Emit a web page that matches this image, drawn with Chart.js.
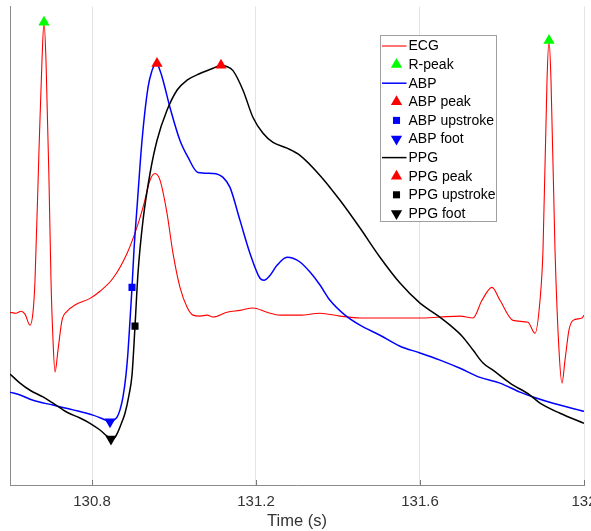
<!DOCTYPE html>
<html><head><meta charset="utf-8">
<script src="https://cdn.jsdelivr.net/npm/chart.js@4.4.1/dist/chart.umd.min.js"></script>
<style>html,body{margin:0;padding:0;background:#fff;overflow:hidden}</style>
</head><body>
<canvas id="c" width="591" height="531"></canvas>
<script>
// ---- data (time in s, amplitude normalised 0..1) ----
const xTicks = [130.8, 131.2, 131.6, 132];

const ecgT = [130.6000,130.6146,130.6268,130.6366,130.6488,130.6561,130.6610,130.6707,130.6780,130.6829,130.6878,130.6951,130.7000,130.7049,130.7098,130.7171,130.7268,130.7390,130.7585,130.7951,130.8195,130.8512,130.8854,130.9098,130.9244,130.9415,130.9537,130.9659,130.9829,130.9976,131.0146,131.0317,131.0463,131.0634,131.0805,131.0951,131.1293,131.1610,131.1927,131.2268,131.2585,131.3073,131.3561,131.4049,131.4537,131.5024,131.5512,131.6000,131.6488,131.6976,131.7293,131.7512,131.7756,131.7951,131.8268,131.8634,131.8805,131.8927,131.9000,131.9098,131.9146,131.9195,131.9293,131.9390,131.9463,131.9537,131.9634,131.9732,131.9951,132.0000];
const ecgV = [0.361,0.359,0.363,0.357,0.334,0.361,0.428,0.699,0.887,0.967,0.887,0.637,0.428,0.303,0.236,0.282,0.344,0.363,0.376,0.390,0.405,0.432,0.484,0.539,0.580,0.637,0.651,0.637,0.568,0.484,0.413,0.372,0.355,0.353,0.355,0.351,0.361,0.365,0.370,0.361,0.355,0.355,0.359,0.353,0.349,0.349,0.349,0.349,0.351,0.353,0.349,0.386,0.413,0.386,0.344,0.340,0.317,0.386,0.491,0.846,0.929,0.846,0.491,0.282,0.213,0.261,0.324,0.344,0.349,0.355];

const abpT = [130.6000,130.6244,130.6561,130.7049,130.7537,130.8024,130.8268,130.8439,130.8537,130.8610,130.8683,130.8756,130.8829,130.8878,130.8927,130.8976,130.9024,130.9098,130.9220,130.9366,130.9463,130.9537,130.9585,130.9659,130.9732,130.9902,131.0146,131.0341,131.0585,131.0951,131.1195,131.1366,131.1610,131.1854,131.2098,131.2195,131.2341,131.2512,131.2756,131.2902,131.3073,131.3317,131.3561,131.3805,131.4171,131.4537,131.5024,131.5512,131.6000,131.6488,131.6976,131.7463,131.7951,131.8439,131.8756,131.9244,132.0000];
const abpV = [0.194,0.188,0.177,0.167,0.157,0.146,0.138,0.132,0.136,0.142,0.157,0.184,0.230,0.278,0.344,0.413,0.491,0.580,0.720,0.831,0.866,0.879,0.881,0.866,0.846,0.789,0.720,0.685,0.653,0.651,0.643,0.622,0.553,0.484,0.432,0.428,0.438,0.459,0.476,0.474,0.466,0.445,0.418,0.386,0.355,0.334,0.313,0.290,0.276,0.261,0.244,0.225,0.213,0.194,0.184,0.171,0.154];

const ppgT = [130.6000,130.6244,130.6488,130.6805,130.7049,130.7390,130.7707,130.7951,130.8195,130.8366,130.8463,130.8561,130.8634,130.8732,130.8805,130.8902,130.8976,130.9049,130.9122,130.9244,130.9415,130.9585,130.9829,131.0073,131.0317,131.0634,131.0951,131.1146,131.1268,131.1439,131.1683,131.1927,131.2171,131.2415,131.2756,131.3073,131.3561,131.4049,131.4537,131.5024,131.5512,131.6000,131.6415,131.6732,131.7049,131.7293,131.7537,131.7780,131.8195,131.8683,131.8927,131.9415,132.0000];
const ppgV = [0.232,0.213,0.198,0.184,0.171,0.152,0.140,0.129,0.115,0.102,0.096,0.100,0.111,0.132,0.150,0.188,0.230,0.332,0.443,0.553,0.651,0.720,0.783,0.825,0.846,0.860,0.871,0.877,0.875,0.866,0.825,0.768,0.735,0.716,0.704,0.689,0.647,0.595,0.537,0.476,0.422,0.380,0.355,0.334,0.309,0.282,0.255,0.240,0.213,0.188,0.171,0.150,0.129];

const rPeakT = [130.6829, 131.9146];
const rPeakV = [0.967, 0.929];
const abpPeakT = [130.9585];
const abpPeakV = [0.881];
const abpUpT = [130.8976];
const abpUpV = [0.413];
const abpFootT = [130.8439];
const abpFootV = [0.132];
const ppgPeakT = [131.1146];
const ppgPeakV = [0.877];
const ppgUpT = [130.9049];
const ppgUpV = [0.332];
const ppgFootT = [130.8463];
const ppgFootV = [0.096];

const legendLabels = ['ECG','R-peak','ABP','ABP peak','ABP upstroke','ABP foot','PPG','PPG peak','PPG upstroke','PPG foot'];

// ---- build ----
const FONT = '"Liberation Sans", Arial, Helvetica, sans-serif';
const pts = (t, v) => t.map((x, i) => ({x, y: v[i]}));
const lineDS = (label, t, v, color, width, order) => ({
  label, data: pts(t, v), showLine: true, borderColor: color, backgroundColor: color,
  borderWidth: width, pointRadius: 0, pointHoverRadius: 0, cubicInterpolationMode: 'monotone',
  fill: false, order
});
const markDS = (label, t, v, color, style, radius, rotation) => ({
  label, data: pts(t, v), showLine: false, pointStyle: style, pointRadius: radius,
  pointHoverRadius: radius, pointRotation: rotation, backgroundColor: color, borderColor: color,
  borderWidth: 0, order: 0
});

const datasets = [
  lineDS('ECG', ecgT, ecgV, '#ff0000', 1.1, 3),
  markDS('R-peak', rPeakT, rPeakV, '#00ff00', 'triangle', 6.5, 0),
  lineDS('ABP', abpT, abpV, '#0000ff', 1.5, 2),
  markDS('ABP peak', abpPeakT, abpPeakV, '#ff0000', 'triangle', 6.5, 0),
  markDS('ABP upstroke', abpUpT, abpUpV, '#0000ff', 'rect', 5, 0),
  markDS('ABP foot', abpFootT, abpFootV, '#0000ff', 'triangle', 6.5, 180),
  lineDS('PPG', ppgT, ppgV, '#000000', 1.5, 1),
  markDS('PPG peak', ppgPeakT, ppgPeakV, '#ff0000', 'triangle', 6.5, 0),
  markDS('PPG upstroke', ppgUpT, ppgUpV, '#000000', 'rect', 5, 0),
  markDS('PPG foot', ppgFootT, ppgFootV, '#000000', 'triangle', 6.5, 180)
];

function drawMarker(ctx, style, r, rot, x, y) {
  if (window.Chart && Chart.helpers && Chart.helpers.drawPoint) {
    Chart.helpers.drawPoint(ctx, {pointStyle: style, radius: r, rotation: rot, borderWidth: 0}, x, y);
    return;
  }
  ctx.beginPath();
  if (style === 'rect') {
    const s = r * Math.SQRT1_2;
    ctx.rect(x - s, y - s, 2 * s, 2 * s);
  } else {
    let a = rot * Math.PI / 180;
    ctx.moveTo(x + Math.sin(a) * r, y - Math.cos(a) * r);
    a += 2 * Math.PI / 3; ctx.lineTo(x + Math.sin(a) * r, y - Math.cos(a) * r);
    a += 2 * Math.PI / 3; ctx.lineTo(x + Math.sin(a) * r, y - Math.cos(a) * r);
    ctx.closePath();
  }
  ctx.fill();
}

const innerTicks = {
  id: 'innerTicks',
  afterDraw(chart) {
    const ctx = chart.ctx, xs = chart.scales.x, b = chart.chartArea.bottom;
    ctx.save();
    ctx.strokeStyle = '#777';
    ctx.lineWidth = 1;
    ctx.beginPath();
    xTicks.forEach(v => {
      const px = Math.round(xs.getPixelForValue(v)) + 0.5;
      ctx.moveTo(px, b);
      ctx.lineTo(px, b - 5);
    });
    ctx.stroke();
    ctx.restore();
  }
};

const boxLegend = {
  id: 'boxLegend',
  afterDraw(chart) {
    const ctx = chart.ctx;
    const L = 380.5, T = 35.5, W = 116, H = 186;
    ctx.save();
    ctx.fillStyle = '#ffffff';
    ctx.fillRect(L, T, W, H);
    ctx.strokeStyle = '#a0a0a0';
    ctx.lineWidth = 1;
    ctx.strokeRect(L, T, W, H);
    ctx.font = '14px ' + FONT;
    ctx.textBaseline = 'middle';
    ctx.textAlign = 'left';
    legendLabels.forEach((lab, i) => {
      const y = 46 + i * 18.6;
      const ds = chart.data.datasets.find(d => d.label === lab);
      if (ds.showLine) {
        ctx.strokeStyle = ds.borderColor;
        ctx.lineWidth = ds.borderWidth;
        ctx.beginPath();
        ctx.moveTo(L + 1.5, y);
        ctx.lineTo(L + 26, y);
        ctx.stroke();
      } else {
        ctx.fillStyle = ds.backgroundColor;
        ctx.strokeStyle = ds.backgroundColor;
        drawMarker(ctx, ds.pointStyle, ds.pointRadius, ds.pointRotation, L + 16, y);
      }
      ctx.fillStyle = '#000';
      ctx.fillText(lab, L + 28, y + 0.5);
    });
    ctx.restore();
  }
};

new Chart(document.getElementById('c'), {
  type: 'scatter',
  data: { datasets },
  options: {
    responsive: false,
    animation: false,
    devicePixelRatio: 1,
    layout: { padding: { left: 0, right: 7, top: 6, bottom: 0 } },
    plugins: { legend: { display: false }, tooltip: { enabled: false }, title: { display: false } },
    scales: {
      x: {
        type: 'linear', position: 'bottom', min: 130.6, max: 132,
        afterBuildTicks: s => { s.ticks = xTicks.map(value => ({value})); },
        afterFit: s => { s.height = 46; s.paddingLeft = 0; s.paddingRight = 0; },
        grid: { display: true, color: '#e4e4e4', lineWidth: 1, drawTicks: false },
        border: { display: true, color: '#8a8a8a', width: 1 },
        ticks: { padding: 8, color: '#333', font: { family: FONT, size: 15 }, maxRotation: 0, autoSkip: false,
                 callback: v => String(v) },
        title: { display: true, text: 'Time (s)', color: '#333', font: { family: FONT, size: 16.5 },
                 padding: { top: 0, bottom: 0 } }
      },
      y: {
        min: 0, max: 1,
        afterFit: s => { s.width = 10; },
        grid: { display: false, drawTicks: false },
        border: { display: true, color: '#8a8a8a', width: 1 },
        ticks: { display: false }
      }
    }
  },
  plugins: [innerTicks, boxLegend]
});
</script>
</body></html>
